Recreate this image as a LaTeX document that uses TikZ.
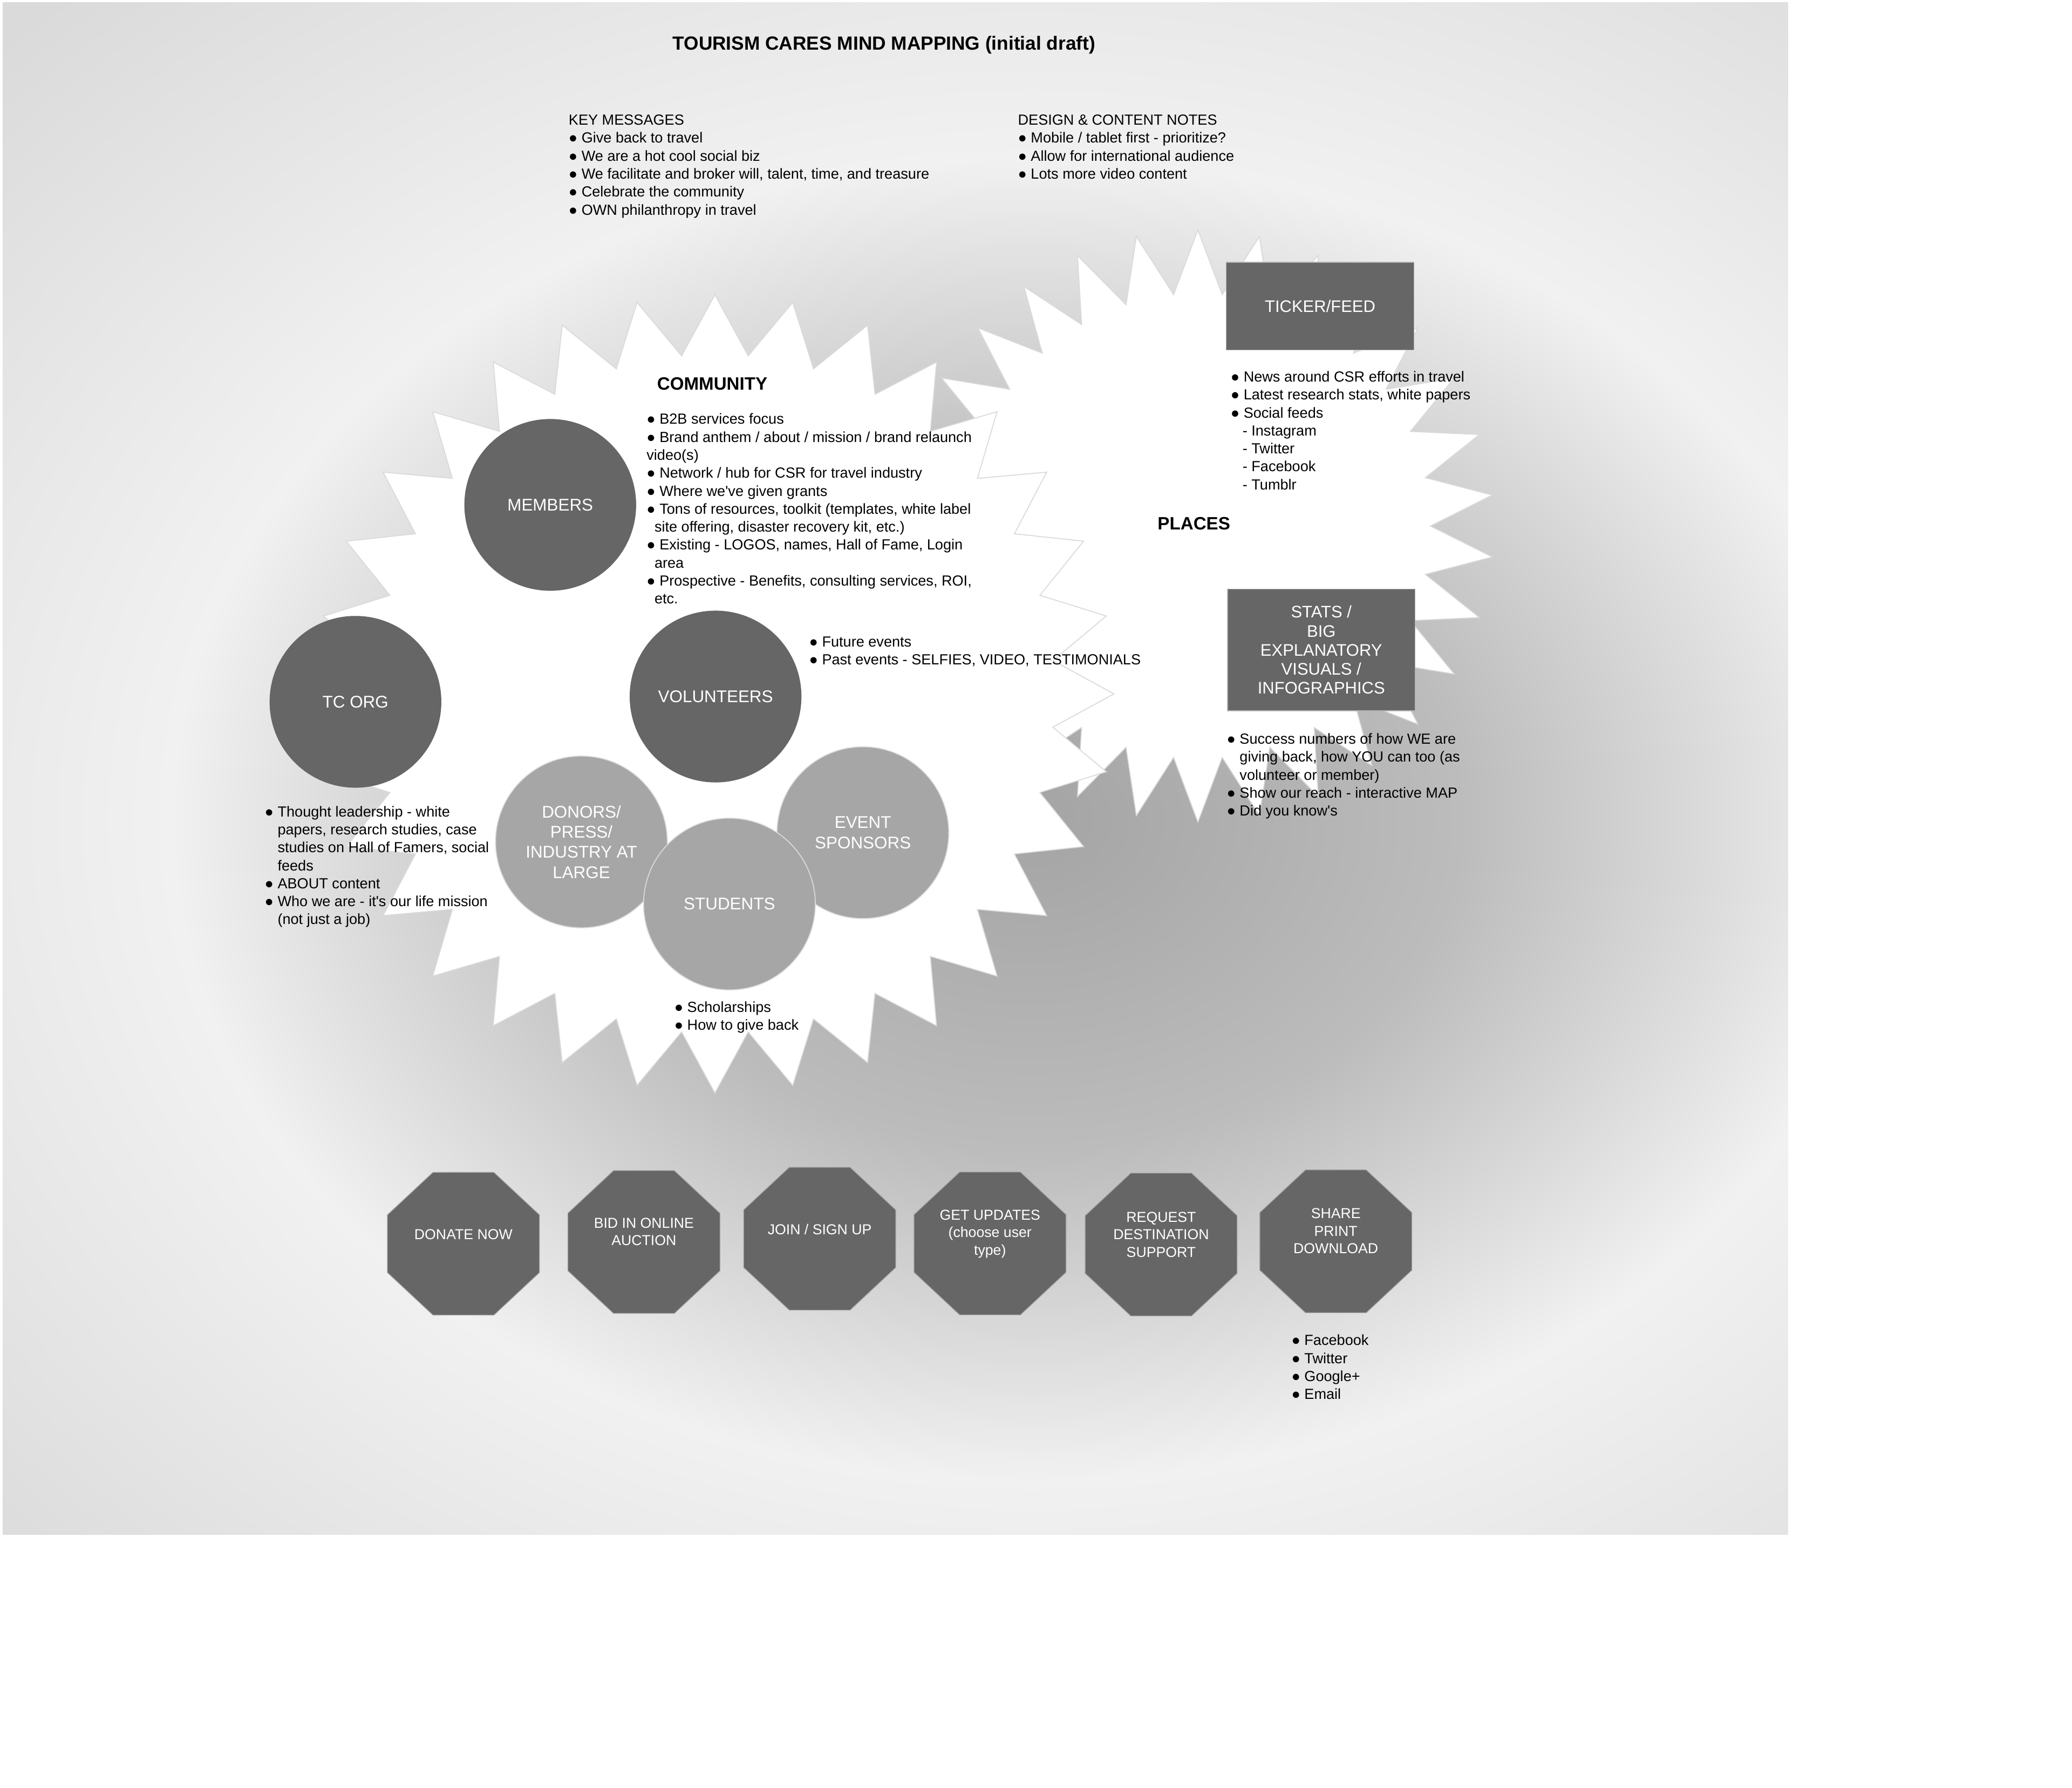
\documentclass[tikz,border=0pt]{standalone}
\usepackage{fontspec}
\setmainfont{Liberation Sans}
\definecolor{darkfill}{HTML}{666666}
\definecolor{lightfill}{HTML}{A6A6A6}
\definecolor{starline}{HTML}{DADADA}
\definecolor{bgin}{HTML}{A4A4A4}
\definecolor{bgmid}{HTML}{BCBCBC}
\definecolor{bgout}{HTML}{F1F1F1}
\definecolor{bgcorner}{HTML}{DADADA}
\pgfdeclareradialshading{bgshade}{\pgfpoint{0bp}{0bp}}{color(0bp)=(bgin); color(6.25bp)=(bgmid); color(12.5bp)=(bgout); color(21bp)=(bgcorner); color(50bp)=(bgcorner)}
\newcommand{\sq}{\textquotesingle}
\begin{document}
\begin{tikzpicture}[x=0.02cm, y=-0.02cm,
  bodytext/.style={font=\fontsize{6.3}{7.74}\selectfont, align=left, anchor=north west, inner sep=0pt, text=black},
  heading/.style={font=\bfseries\fontsize{7.7}{9}\selectfont, inner sep=0pt, text=black},
  titletext/.style={font=\bfseries\fontsize{8.2}{10}\selectfont, inner sep=0pt, text=black},
  darkcircle/.style={circle, fill=darkfill, minimum size=2.6cm, inner sep=0pt, text=white, font=\fontsize{7.3}{8.7}\selectfont, align=center},
  lightcircle/.style={darkcircle, fill=lightfill, draw=white!60!lightfill, line width=0.4pt},
  infobox/.style={rectangle, fill=darkfill, draw=gray!60, line width=0.3pt, minimum width=2.84cm, text=white, font=\fontsize{7.2}{8.2}\selectfont, align=center, inner sep=0pt},
  octfill/.style={fill=darkfill, draw=gray!75, line width=0.3pt},
  octtext/.style={text=white, font=\fontsize{6.2}{7.55}\selectfont, align=center, inner sep=0pt},
  starshape/.style={fill=white, draw=starline, line width=0.4pt}
]
\useasboundingbox (0,0) rectangle (1568,1352.8);
\fill[white] (0,0) rectangle (1568,1352.8);
% background
\begin{scope}
  \clip (2,2) rectangle (1353,1161);
  \shade[shading=bgshade] (-520,-380) rectangle (2080,1620);
\end{scope}
% places star
\begin{scope}[shift={(906.5,398)}]
  \draw[starshape] (90:224) \foreach \i in {0,...,29} { -- ({90+(\i+0.5)*12}:176) -- ({90+(\i+1)*12}:224) } -- cycle;
\end{scope}
% community star
\begin{scope}[shift={(541,525)}]
  \draw[starshape] (90:302) \foreach \i in {0,...,31} { -- ({90+(\i+0.5)*11.25}:257) -- ({90+(\i+1)*11.25}:302) } -- cycle;
\end{scope}
% title and notes
\node[titletext] (title) at (669,34) {TOURISM CARES MIND MAPPING (initial draft)};
\node[bodytext] (keymsg) at (430,86.5) {KEY MESSAGES\\
● Give back to travel\\
● We are a hot cool social biz\\
● We facilitate and broker will, talent, time, and treasure\\
● Celebrate the community\\
● OWN philanthropy in travel};
\node[bodytext] (design) at (770,86.5) {DESIGN \& CONTENT NOTES\\
● Mobile / tablet first - prioritize?\\
● Allow for international audience\\
● Lots more video content};
% community
\node[heading] (community) at (539,290.5) {COMMUNITY};
\node[bodytext] (comnotes) at (489,312.5) {● B2B services focus\\
● Brand anthem / about / mission / brand relaunch\\
video(s)\\
● Network / hub for CSR for travel industry\\
● Where we\sq ve given grants\\
● Tons of resources, toolkit (templates, white label\\
\hspace*{3.4pt}site offering, disaster recovery kit, etc.)\\
● Existing - LOGOS, names, Hall of Fame, Login\\
\hspace*{3.4pt}area\\
● Prospective - Benefits, consulting services, ROI,\\
\hspace*{3.4pt}etc.};
% circles
\node[darkcircle] (members) at (416.4,382) {MEMBERS};
\node[darkcircle] (volunteers) at (541.5,527) {VOLUNTEERS};
\node[darkcircle] (tcorg) at (269,531) {TC ORG};
\node[lightcircle] (donors) at (440,637) {DONORS/\\PRESS/\\INDUSTRY AT\\LARGE};
\node[lightcircle] (sponsors) at (653,630) {EVENT\\SPONSORS};
\node[lightcircle] (students) at (552,684) {STUDENTS};
\node[bodytext] (volnotes) at (612,481.5) {● Future events\\
● Past events - SELFIES, VIDEO, TESTIMONIALS};
\node[bodytext] (tcnotes) at (200,609.5) {● Thought leadership - white\\
\phantom{● }papers, research studies, case\\
\phantom{● }studies on Hall of Famers, social\\
\phantom{● }feeds\\
● ABOUT content\\
● Who we are - it\sq s our life mission\\
\phantom{● }(not just a job)};
\node[bodytext] (stunotes) at (510,757.5) {● Scholarships\\
● How to give back};
% places
\node[heading] (places) at (903.5,396) {PLACES};
\node[infobox, minimum height=1.328cm] (ticker) at (999,231.6) {TICKER/FEED};
\node[bodytext] (tickernotes) at (931,280.5) {● News around CSR efforts in travel\\
● Latest research stats, white papers\\
● Social feeds\\
\hspace*{5.1pt}- Instagram\\
\hspace*{5.1pt}- Twitter\\
\hspace*{5.1pt}- Facebook\\
\hspace*{5.1pt}- Tumblr};
\node[infobox, minimum height=1.842cm] (stats) at (999.9,491.75) {STATS /\\BIG\\EXPLANATORY\\VISUALS /\\INFOGRAPHICS};
\node[bodytext] (statsnotes) at (928,554.5) {● Success numbers of how WE are\\
\phantom{● }giving back, how YOU can too (as\\
\phantom{● }volunteer or member)\\
● Show our reach - interactive MAP\\
● Did you know\sq s};
% octagons
\foreach \cx/\cy in {350.7/941, 487.3/939.7, 620.3/937.2, 749.2/940.8, 878.7/941.6, 1010.9/939.2} {
  \draw[octfill, shift={(\cx,\cy)}] (-23,-54) -- (23,-54) -- (57.5,-21.8) -- (57.5,21.8) -- (23,54) -- (-23,54) -- (-57.5,21.8) -- (-57.5,-21.8) -- cycle;
}
\node[octtext] (donate) at (350.7,934) {DONATE NOW};
\node[octtext] (bid) at (487.3,932) {BID IN ONLINE\\AUCTION};
\node[octtext] (join) at (620.3,930) {JOIN / SIGN UP};
\node[octtext] (updates) at (749.2,933.5) {GET UPDATES\\(choose user\\type)};
\node[octtext] (request) at (878.7,934) {REQUEST\\DESTINATION\\SUPPORT};
\node[octtext] (share) at (1010.9,931.5) {SHARE\\PRINT\\DOWNLOAD};
\node[bodytext] (sharenotes) at (977,1009.5) {● Facebook\\
● Twitter\\
● Google+\\
● Email};
\end{tikzpicture}
\end{document}
